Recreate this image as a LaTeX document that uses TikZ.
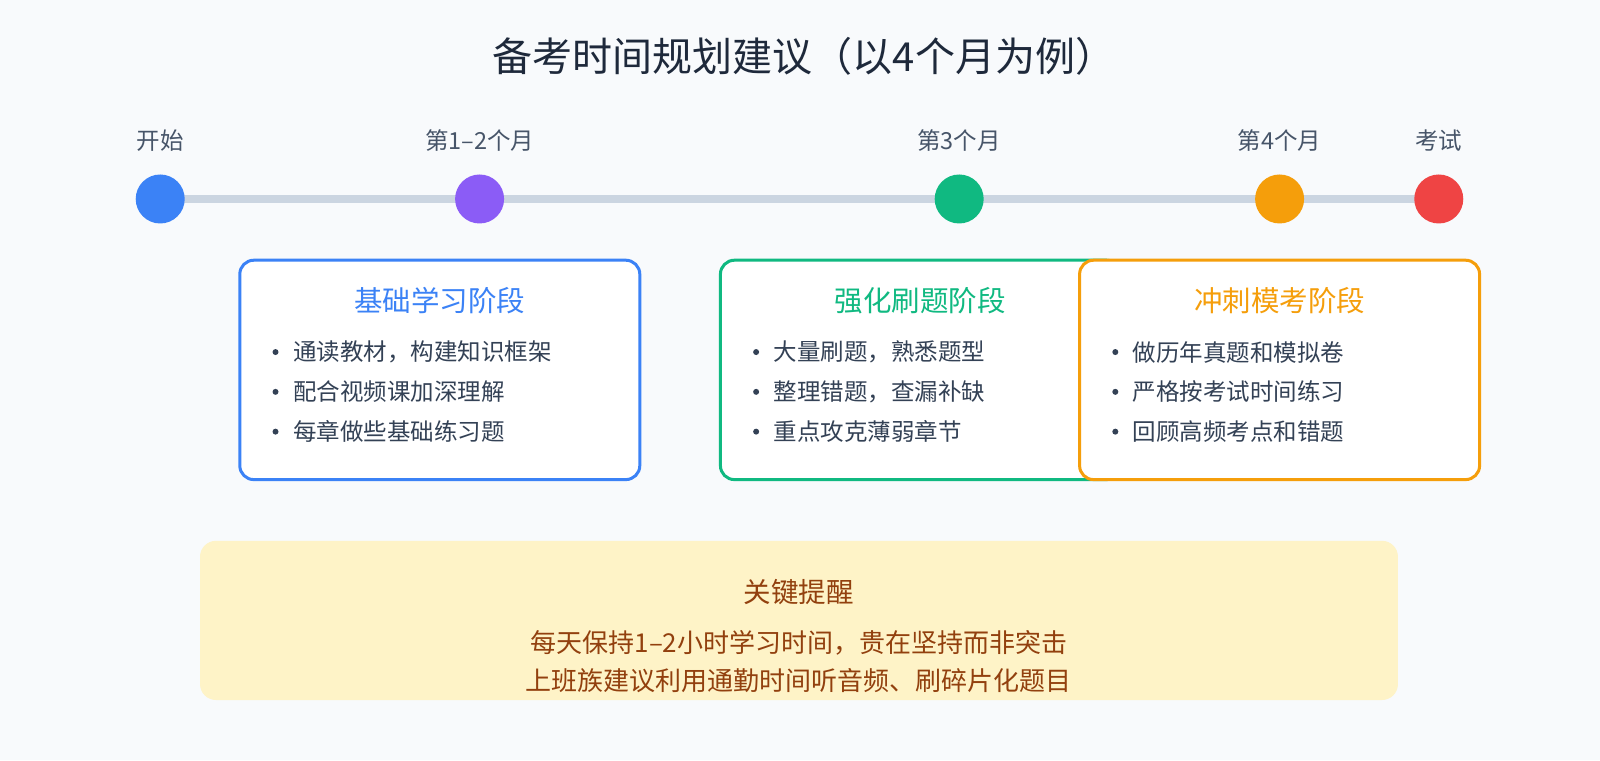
\documentclass[tikz,border=0pt]{standalone}
\usepackage{fontspec}
\setmainfont{Noto Sans CJK SC}
\newfontfamily\medfont{Noto Sans CJK SC Medium}
\begin{document}
\begin{tikzpicture}[x=1.0204pt,y=-1.0204pt,
  lbl/.style={text=labc,font=\fontsize{23.5}{27}\selectfont},
  dot/.style={circle,minimum size=49pt,inner sep=0pt},
  card/.style={line width=3pt,rounded corners=14pt,fill=white},
  ctitle/.style={font=\fontsize{28.5}{32}\selectfont},
  item/.style={anchor=west,text=itemc,font=\fontsize{23.5}{27}\selectfont,inner sep=0pt},
  bul/.style={circle,fill=itemc,minimum size=6pt,inner sep=0pt}]
\definecolor{bg}{HTML}{F8FAFC}
\definecolor{labc}{HTML}{475569}
\definecolor{itemc}{HTML}{334155}
\definecolor{titc}{HTML}{1E293B}
\definecolor{linec}{HTML}{CBD5E1}
\definecolor{cb}{HTML}{3B82F6}
\definecolor{cp}{HTML}{8B5CF6}
\definecolor{cg}{HTML}{10B981}
\definecolor{co}{HTML}{F59E0B}
\definecolor{cr}{HTML}{EF4444}
\definecolor{noteb}{HTML}{FEF3C7}
\definecolor{notet}{HTML}{92400E}
\fill[bg] (0,0) rectangle (1568,744.8);
\useasboundingbox (0,0) rectangle (1568,744.8);
\node[text=titc,font=\fontsize{40}{44}\selectfont] (title) at (788,55) {备考时间规划建议（以4个月为例）};
\node[dot] (d1) at (157,195) {};
\node[dot] (d5) at (1410,195) {};
\draw[linec,line width=8pt] (d1.center) -- (d5.center);
\node[dot,fill=cb] (d1) at (157,195) {};
\node[dot,fill=cp] (d2) at (470,195) {};
\node[dot,fill=cg] (d3) at (940,195) {};
\node[dot,fill=co] (d4) at (1254,195) {};
\node[dot,fill=cr] (d5) at (1410,195) {};
\node[lbl] (l1) at (157,138) {开始};
\node[lbl] (l2) at (470,138) {第1–2个月};
\node[lbl] (l3) at (940,138) {第3个月};
\node[lbl] (l4) at (1254,138) {第4个月};
\node[lbl] (l5) at (1410,138) {考试};
% cards
\draw[card,draw=cb] (235,255) rectangle (627,470);
\node[ctitle,text=cb] (t1) at (431,295) {基础学习阶段};
\draw[card,draw=cg] (706,255) rectangle (1098,470);
\node[ctitle,text=cg] (t2) at (902,295) {强化刷题阶段};
\draw[card,draw=co] (1058,255) rectangle (1450,470);
\node[ctitle,text=co] (t3) at (1254,295) {冲刺模考阶段};
\foreach \x/\a/\b/\c in {270/通读教材，构建知识框架/配合视频课加深理解/每章做些基础练习题,
  741/大量刷题，熟悉题型/整理错题，查漏补缺/重点攻克薄弱章节,
  1093/做历年真题和模拟卷/严格按考试时间练习/回顾高频考点和错题}{
  \node[bul] at (\x,345) {}; \node[item] at (\x+17,345) {\a};
  \node[bul] at (\x,384) {}; \node[item] at (\x+17,384) {\b};
  \node[bul] at (\x,423) {}; \node[item] at (\x+17,423) {\c};
}
% note
\fill[noteb,rounded corners=16pt] (196,530) rectangle (1370,686);
\node[text=notet,font=\fontsize{27.5}{31}\selectfont] (nt) at (783,580) {关键提醒};
\node[text=notet,font=\fontsize{26}{30}\selectfont] (n1) at (783,630) {每天保持1–2小时学习时间，贵在坚持而非突击};
\node[text=notet,font=\fontsize{26}{30}\selectfont] (n2) at (783,667) {上班族建议利用通勤时间听音频、刷碎片化题目};
\end{tikzpicture}
\end{document}
